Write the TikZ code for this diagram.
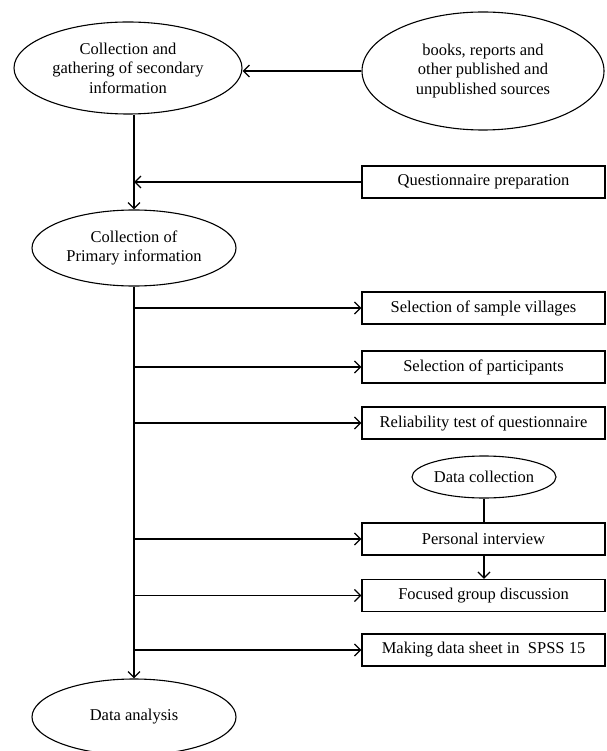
\documentclass[tikz,border=0pt]{standalone}
\usepackage{fontspec}
\setmainfont{Liberation Serif}
\usetikzlibrary{shapes.geometric,arrows.meta,calc}
\begin{document}
\begin{tikzpicture}[x=1pt,y=-1pt,
  every node/.style={font=\fontsize{16.5}{19.5}\selectfont, align=center, inner sep=0pt},
  oval/.style={ellipse, draw, line width=1.1pt},
  boxnode/.style={rectangle, draw, line width=1.2pt, minimum width=243pt, minimum height=32pt},
  arr/.style={line width=1.5pt, -{Straight Barb[length=6pt,width=12pt,line width=1.3pt]}},
  ln/.style={line width=1.5pt}]
\useasboundingbox (0,0) rectangle (606,751);
% ellipses
\node[oval, minimum width=228pt, minimum height=92pt] (e1) at (128,68)
  {Collection and\\gathering of secondary\\information};
\node[oval, minimum width=242pt, minimum height=118pt] (e2) at (483,71)
  {books, reports and\\other published and\\unpublished sources};
\node[oval, minimum width=204pt, minimum height=76pt] (e3) at (134,248)
  {Collection of\\Primary information};
\node[oval, minimum width=144pt, minimum height=42pt] (dc) at (484,477)
  {Data collection};
\node[oval, minimum width=204pt, minimum height=76pt] (da) at (134,717)
  {Data analysis};
% boxes
\node[boxnode] (q)  at (483.5,182) {Questionnaire preparation};
\node[boxnode] (b1) at (483.5,308) {Selection of sample villages};
\node[boxnode] (b2) at (483.5,367) {Selection of participants};
\node[boxnode] (b3) at (483.5,423) {Reliability test of questionnaire};
\node[boxnode] (b4) at (483.5,539) {Personal interview};
\node[boxnode] (b5) at (483.5,595.5) {Focused group discussion};
\node[boxnode] (b6) at (483.5,650) {Making data sheet in\ \ SPSS 15};
% connectors
\draw[arr] (e2.west) -- (e2.west -| e1.east);
\draw[arr] (e1.south -| e3.north) -- (e3.north);
\draw[arr] (q.west) -- (q.west -| e3.north);
\draw[arr] (e3.south) -- (da.north);
\foreach \b in {b1,b2,b3,b4,b5,b6}
  \draw[arr] (\b.west -| e3.south) -- (\b.west);
\draw[ln] (dc.south) -- (dc.south |- b4.north);
\draw[arr] (b4.south -| dc.south) -- (b5.north -| dc.south);
\end{tikzpicture}
\end{document}
